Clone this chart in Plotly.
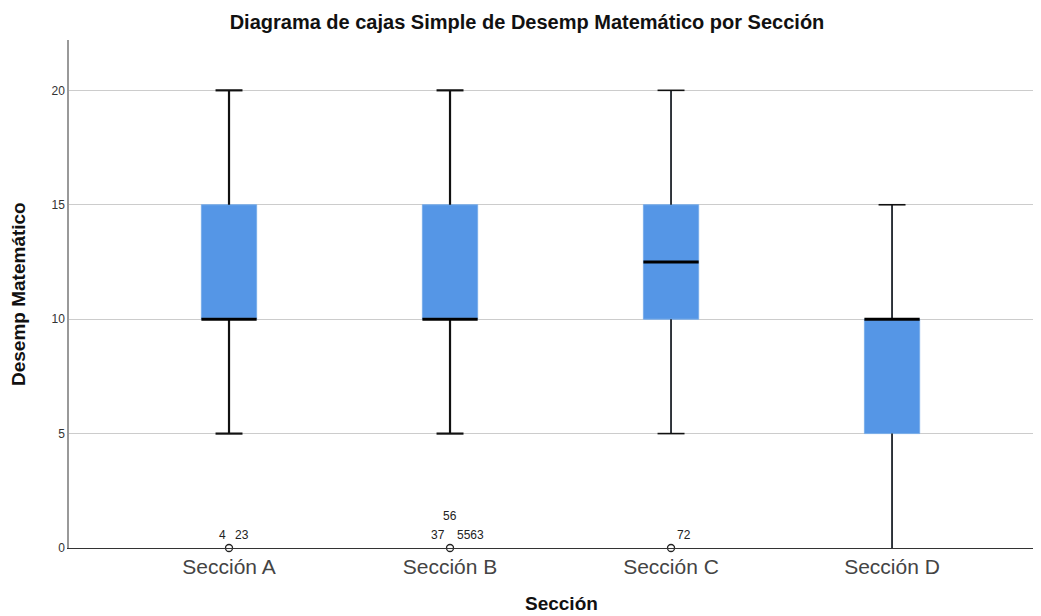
import plotly.graph_objects as go

categories = ["Sección A", "Sección B", "Sección C", "Sección D"]
q1 = [10, 10, 10, 5]
median = [10, 10, 12.5, 10]
q3 = [15, 15, 15, 10]
lower_whisker = [5, 5, 5, 0]
upper_whisker = [20, 20, 20, 15]

# outliers: category index, value, case label, label x-shift px, label y-shift px
outlier_cat = [0, 0, 1, 1, 1, 2]
outlier_val = [0, 0, 0, 0, 0, 0]
outlier_lbl = ["4", "23", "37", "5563", "56", "72"]
outlier_dx = [-7, 13, -12, 20, 0, 13]
outlier_dy = [13, 13, 13, 13, 32, 13]

y_ticks = [0, 5, 10, 15, 20]

BOX_W = 0.25
CAP_HALF = 0.061
BLUE = "#5596e6"

fig = go.Figure()

for i, c in enumerate(categories):
    fig.add_trace(go.Box(
        x=[i], q1=[q1[i]], median=[median[i]], q3=[q3[i]],
        lowerfence=[lower_whisker[i]], upperfence=[upper_whisker[i]],
        width=BOX_W, fillcolor=BLUE, line=dict(color="#7aaeea", width=1),
        whiskerwidth=0, boxpoints=False, showlegend=False, hoverinfo="skip",
    ))

# whiskers + caps
for i in range(len(categories)):
    lw = 2.2 if i < 2 else 1.6
    xs = [i, i, None, i, i, None,
          i - CAP_HALF, i + CAP_HALF, None]
    ys = [q3[i], upper_whisker[i], None, q1[i], lower_whisker[i], None,
          upper_whisker[i], upper_whisker[i], None]
    if lower_whisker[i] > 0:
        xs += [i - CAP_HALF, i + CAP_HALF]
        ys += [lower_whisker[i], lower_whisker[i]]
    fig.add_trace(go.Scatter(x=xs, y=ys, mode="lines",
                             line=dict(color="#111111", width=lw),
                             showlegend=False, hoverinfo="skip", cliponaxis=False))

# medians
mx, my = [], []
for i in range(len(categories)):
    mx += [i - BOX_W / 2, i + BOX_W / 2, None]
    my += [median[i], median[i], None]
fig.add_trace(go.Scatter(x=mx, y=my, mode="lines",
                         line=dict(color="#000000", width=3),
                         showlegend=False, hoverinfo="skip"))

# outlier markers
ucat = sorted(set(outlier_cat))
fig.add_trace(go.Scatter(x=ucat, y=[outlier_val[outlier_cat.index(c)] for c in ucat],
                         mode="markers", cliponaxis=False,
                         marker=dict(symbol="circle-open", size=7,
                                     color="#222222", line=dict(width=1.3)),
                         showlegend=False, hoverinfo="skip"))

for c, v, t, dx, dy in zip(outlier_cat, outlier_val, outlier_lbl, outlier_dx, outlier_dy):
    fig.add_annotation(x=c, y=v, text=t, showarrow=False, xshift=dx, yshift=dy,
                       font=dict(size=12, color="#222222", family="Liberation Sans"))

# axis titles placed as annotations
fig.add_annotation(xref="paper", yref="paper", x=0, y=0.5, xanchor="center",
                   yanchor="middle", xshift=-51, textangle=-90, showarrow=False,
                   text="<b>Desemp Matemático</b>",
                   font=dict(size=19, color="#111111"))
fig.add_annotation(xref="paper", yref="paper", x=0.5, y=0, xanchor="center",
                   yanchor="middle", xshift=6, yshift=-55, showarrow=False,
                   text="<b>Sección</b>",
                   font=dict(size=19, color="#111111"))

fig.update_layout(
    width=1033, height=608,
    margin=dict(l=61, r=0, t=32, b=68, autoexpand=False),
    paper_bgcolor="white", plot_bgcolor="white",
    font=dict(family="Liberation Sans, Arial, sans-serif", color="#222222"),
    title=dict(text="<b>Diagrama de cajas Simple de Desemp Matemático por Sección</b>",
               x=0.5024, xanchor="center", y=1 - 14 / 608, yanchor="middle",
               font=dict(size=20, color="#111111")),
    xaxis=dict(range=[-0.724, 3.674], tickvals=list(range(len(categories))),
               ticktext=categories, showgrid=False, zeroline=False, automargin=False,
               showline=True, linecolor="#333333", linewidth=1.2,
               ticks="", tickfont=dict(size=21, color="#444444")),
    yaxis=dict(range=[0, 22.2], tickvals=y_ticks, ticktext=[str(t) for t in y_ticks],
               showgrid=True, gridcolor="#cccccc", gridwidth=1.3, zeroline=False,
               showline=True, linecolor="#999999", linewidth=1.5, automargin=False,
               ticks="", tickfont=dict(size=12, color="#333333")),
)

fig.write_html("out.html")
